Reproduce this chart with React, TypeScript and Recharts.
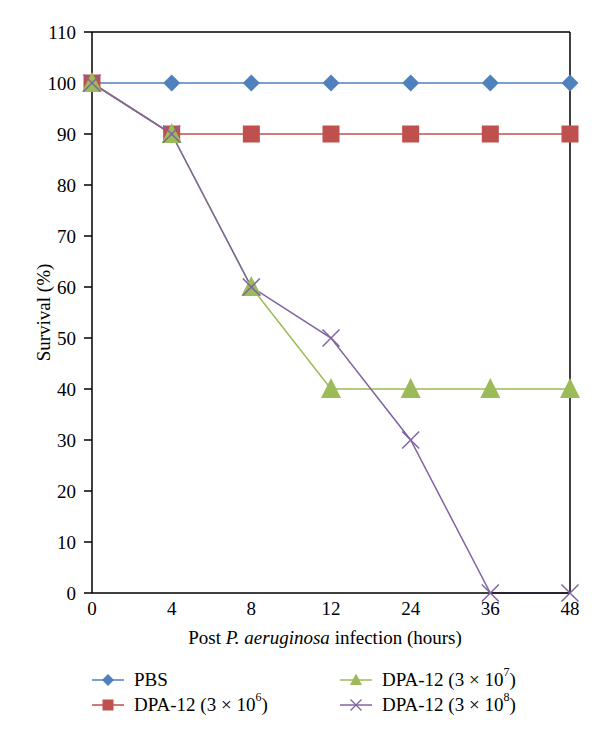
import React from 'react';
import { LineChart, Line, XAxis, YAxis, ReferenceLine } from 'recharts';

const hours = ['0', '4', '8', '12', '24', '36', '48'];
const pbs = [100, 100, 100, 100, 100, 100, 100];
const dpa6 = [100, 90, 90, 90, 90, 90, 90];
const dpa7 = [100, 90, 60, 40, 40, 40, 40];
const dpa8 = [100, 90, 60, 50, 30, 0, 0];
const yTicks = [0, 10, 20, 30, 40, 50, 60, 70, 80, 90, 100, 110];

const BLUE = '#4F81BD';
const RED = '#C0504D';
const GREEN = '#9BBB59';
const PURPLE = '#8064A2';
const FONT = '"Liberation Serif", "Times New Roman", serif';
const FS = 19;

const data = hours.map((h, i) => ({
  hour: h,
  pbs: pbs[i],
  dpa6: dpa6[i],
  dpa7: dpa7[i],
  dpa8: dpa8[i],
}));

const Diamond = (p: any) => {
  const { cx, cy } = p;
  if (cx == null || cy == null) return null;
  const r = 8.5;
  return <path key={`d${p.index}`} d={`M${cx},${cy - r}L${cx + r},${cy}L${cx},${cy + r}L${cx - r},${cy}Z`} fill={BLUE} />;
};
const Square = (p: any) => {
  const { cx, cy } = p;
  if (cx == null || cy == null) return null;
  const r = 8.5;
  return <rect key={`s${p.index}`} x={cx - r} y={cy - r} width={2 * r} height={2 * r} fill={RED} />;
};
const Triangle = (p: any) => {
  const { cx, cy } = p;
  if (cx == null || cy == null) return null;
  return <path key={`t${p.index}`} d={`M${cx},${cy - 11}L${cx + 10},${cy + 9}L${cx - 10},${cy + 9}Z`} fill={GREEN} />;
};
const Cross = (p: any) => {
  const { cx, cy } = p;
  if (cx == null || cy == null) return null;
  const r = 8.5;
  return (
    <path
      key={`x${p.index}`}
      d={`M${cx - r},${cy - r}L${cx + r},${cy + r}M${cx - r},${cy + r}L${cx + r},${cy - r}`}
      stroke={PURPLE}
      strokeWidth={1.5}
      fill="none"
    />
  );
};

const YLabel = (props: any) => {
  const vb = props.viewBox || {};
  const x = 43;
  const y = (vb.y ?? 32) + (vb.height ?? 561) / 2;
  return (
    <text x={x} y={y} transform={`rotate(-90, ${x}, ${y})`} textAnchor="middle" dominantBaseline="central" fontFamily={FONT} fontSize={FS} fill="#000">
      Survival (%)
    </text>
  );
};

const XLabel = () => (
  <text x={325} y={644} textAnchor="middle" fontFamily={FONT} fontSize={FS} fill="#000">
    <tspan>Post </tspan>
    <tspan fontStyle="italic">P. aeruginosa</tspan>
    <tspan> infection (hours)</tspan>
  </text>
);

const LegendIcon = ({ kind, color }: { kind: string; color: string }) => (
  <svg width={32} height={14} style={{ display: 'block' }}>
    <line x1={0} y1={7} x2={32} y2={7} stroke={color} strokeWidth={1.5} />
    {kind === 'diamond' && <path d="M16,1L22,7L16,13L10,7Z" fill={color} />}
    {kind === 'square' && <rect x={10.5} y={1.5} width={11} height={11} fill={color} />}
    {kind === 'triangle' && <path d="M16,0.5L22,12L10,12Z" fill={color} />}
    {kind === 'cross' && <path d="M10.5,1.5L21.5,12.5M10.5,12.5L21.5,1.5" stroke={color} strokeWidth={1.3} />}
  </svg>
);

const legendItems = [
  { kind: 'diamond', color: BLUE, left: 92, top: 680, label: 'PBS', exp: '' },
  { kind: 'square', color: RED, left: 92, top: 705, label: 'DPA-12 (3 × 10', exp: '6' },
  { kind: 'triangle', color: GREEN, left: 340, top: 680, label: 'DPA-12 (3 × 10', exp: '7' },
  { kind: 'cross', color: PURPLE, left: 340, top: 705, label: 'DPA-12 (3 × 10', exp: '8' },
];

export default function App() {
  return (
    <div style={{ position: 'absolute', left: 0, top: 0, width: 600, height: 736, background: '#fff', fontFamily: FONT }}>
      <LineChart width={600} height={736} data={data} margin={{ top: 32, right: 30, bottom: 113, left: 32 }}>
        <XAxis
          dataKey="hour"
          type="category"
          tickLine={false}
          tickSize={0}
          tickMargin={9}
          axisLine={{ stroke: '#000', strokeWidth: 1.5 }}
          tick={{ fill: '#000', fontSize: FS, fontFamily: FONT }}
          height={30}
          interval={0}
          label={<XLabel />}
        />
        <YAxis
          domain={[0, 110]}
          ticks={yTicks}
          interval={0}
          width={60}
          tickSize={8}
          tickMargin={8}
          tickLine={{ stroke: '#000', strokeWidth: 1.5 }}
          axisLine={{ stroke: '#000', strokeWidth: 1.5 }}
          tick={{ fill: '#000', fontSize: FS, fontFamily: FONT }}
          label={<YLabel />}
        />
        <ReferenceLine y={110} stroke="#000" strokeWidth={1.5} />
        <ReferenceLine x="48" stroke="#000" strokeWidth={1.5} />
        <Line dataKey="pbs" stroke={BLUE} strokeWidth={1.5} dot={<Diamond />} isAnimationActive={false} />
        <Line dataKey="dpa6" stroke={RED} strokeWidth={1.5} dot={<Square />} isAnimationActive={false} />
        <Line dataKey="dpa7" stroke={GREEN} strokeWidth={1.5} dot={<Triangle />} isAnimationActive={false} />
        <Line dataKey="dpa8" stroke={PURPLE} strokeWidth={1.5} dot={<Cross />} isAnimationActive={false} />
      </LineChart>
      {legendItems.map((it, i) => (
        <div
          key={i}
          style={{
            position: 'absolute',
            left: it.left,
            top: it.top - 12,
            height: 24,
            display: 'flex',
            alignItems: 'center',
            fontSize: FS,
            fontFamily: FONT,
            color: '#000',
            whiteSpace: 'nowrap',
          }}
        >
          <LegendIcon kind={it.kind} color={it.color} />
          <span style={{ marginLeft: 10 }}>
            {it.label}
            {it.exp && <sup style={{ fontSize: 12, verticalAlign: 'top', position: 'relative', top: -4 }}>{it.exp}</sup>}
            {it.exp && ')'}
          </span>
        </div>
      ))}
    </div>
  );
}
